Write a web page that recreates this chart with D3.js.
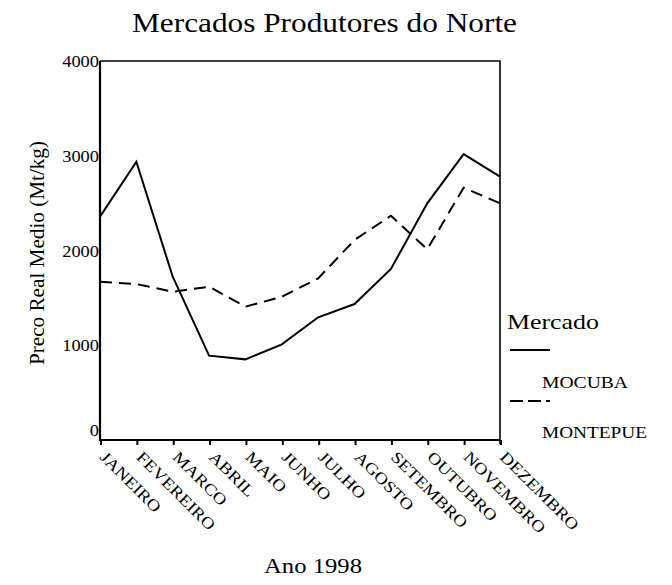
<!DOCTYPE html>
<html><head><meta charset="utf-8">
<script src="https://cdn.jsdelivr.net/npm/d3@7"></script>
<style>
html,body{margin:0;padding:0;background:#fff;}
svg{display:block;font-family:"Liberation Serif","Times New Roman",serif;}
</style></head>
<body>
<svg id="chart" width="672" height="585"></svg>
<script>
const months = ["JANEIRO","FEVEREIRO","MARCO","ABRIL","MAIO","JUNHO","JULHO","AGOSTO","SETEMBRO","OUTUBRO","NOVEMBRO","DEZEMBRO"];
const mocuba = [2357,2937,1723,890,851,1010,1295,1435,1805,2498,3018,2779];
const montepue = [1671,1646,1565,1618,1407,1512,1706,2111,2367,2013,2663,2498];
const yTicks = [0,1000,2000,3000,4000];
const seriesNames = ["MOCUBA","MONTEPUE"];

const svg = d3.select("#chart");
const L = 100, R = 500, T = 61, B = 440;
const x = d3.scalePoint().domain(months).range([L, R]).padding(0);
const y = d3.scaleLinear().domain([0,4000]).range([B, T]);

function stretch(sel, k){
  sel.each(function(){
    const w = this.getComputedTextLength();
    d3.select(this).attr("textLength", w*k).attr("lengthAdjust","spacingAndGlyphs");
  });
}

// frame
svg.append("path").attr("d", `M${L},${T}H${R}V${B+4}`).attr("fill","none").attr("stroke","#000").attr("stroke-width",1.6);
svg.append("line").attr("x1",L).attr("x2",L).attr("y1",T).attr("y2",B+1).attr("stroke","#000").attr("stroke-width",2.2);
svg.append("line").attr("x1",L-1).attr("x2",R).attr("y1",B).attr("y2",B).attr("stroke","#000").attr("stroke-width",2.2);
svg.selectAll(".xt").data(months).enter().append("line")
  .attr("x1",d=>x(d)+1).attr("x2",d=>x(d)+1).attr("y1",B).attr("y2",B+5)
  .attr("stroke","#000").attr("stroke-width",2);

// y tick labels
svg.selectAll(".yl").data(yTicks).enter().append("text")
  .attr("x",L-1).attr("y",d=> d===0 ? y(d)-4 : y(d)+6).attr("text-anchor","end")
  .attr("font-size",16).text(d=>d)
  .call(stretch, 1.15);

// x labels
svg.selectAll(".xl").data(months).enter().append("text")
  .attr("transform",d=>`translate(${x(d)+3},${B+14}) rotate(45)`)
  .attr("dy","0.35em")
  .attr("font-size",16).text(d=>d)
  .call(stretch, 1.18);

// lines
const line = d3.line().x((d,i)=>x(months[i])).y(d=>y(d));
svg.append("path").datum(mocuba).attr("d",line).attr("fill","none").attr("stroke","#000").attr("stroke-width",2);
svg.append("path").datum(montepue).attr("d",line).attr("fill","none").attr("stroke","#000").attr("stroke-width",2).attr("stroke-dasharray","12,7");

// titles
svg.append("text").attr("x",132).attr("y",32).attr("font-size",27)
  .attr("textLength",385).attr("lengthAdjust","spacingAndGlyphs").text("Mercados Produtores do Norte");
svg.append("text").attr("transform","translate(44,253) rotate(-90)").attr("text-anchor","middle").attr("font-size",20)
  .attr("textLength",224).attr("lengthAdjust","spacingAndGlyphs").text("Preco Real Medio (Mt/kg)");
svg.append("text").attr("x",264).attr("y",573).attr("font-size",20)
  .attr("textLength",98).attr("lengthAdjust","spacingAndGlyphs").text("Ano 1998");

// legend
svg.append("text").attr("x",507).attr("y",329).attr("font-size",21)
  .attr("textLength",92).attr("lengthAdjust","spacingAndGlyphs").text("Mercado");
svg.append("line").attr("x1",510).attr("x2",550).attr("y1",350).attr("y2",350).attr("stroke","#000").attr("stroke-width",2);
svg.append("line").attr("x1",510).attr("x2",550).attr("y1",401).attr("y2",401).attr("stroke","#000").attr("stroke-width",2).attr("stroke-dasharray","13,5");
const legLen = [86,105];
svg.selectAll(".lg").data(seriesNames).enter().append("text")
  .attr("x",542).attr("y",(d,i)=>388+i*50).attr("font-size",16)
  .attr("textLength",(d,i)=>legLen[i]).attr("lengthAdjust","spacingAndGlyphs").text(d=>d);
</script>
</body></html>
